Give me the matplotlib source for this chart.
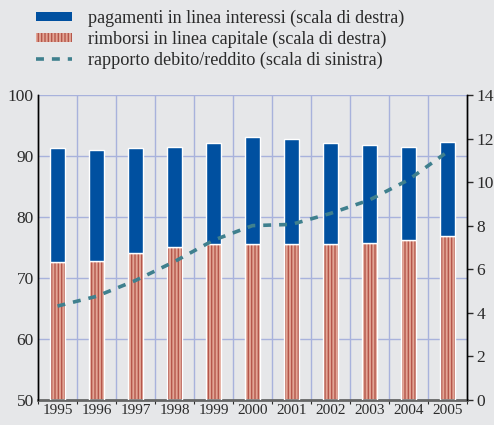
import matplotlib
matplotlib.use("Agg")
import matplotlib.pyplot as plt
import numpy as np
from matplotlib.patches import Patch
from matplotlib.lines import Line2D

years = ["1995", "1996", "1997", "1998", "1999", "2000",
         "2001", "2002", "2003", "2004", "2005"]
# right scale: capital repayments and total service (capital + interest)
rimborsi = [6.35, 6.39, 6.75, 7.02, 7.18, 7.18, 7.18, 7.16, 7.19, 7.33, 7.54]
totale = [11.58, 11.49, 11.58, 11.62, 11.80, 12.10, 12.00, 11.79, 11.69, 11.64, 11.84]
interessi = [t - r for t, r in zip(totale, rimborsi)]
# left scale: debt / income ratio
rapporto = [65.4, 67.0, 69.6, 72.7, 76.2, 78.6, 78.8, 80.6, 82.8, 86.1, 90.7]

BG = "#e6e7e9"
GRID = "#a8b2dc"
BLUE = "#0050a0"
SALMON = "#e2a595"
STRIPE = "#b5564b"
TEAL = "#3f808e"
TXT = "#2a2a2a"

plt.rcParams["font.family"] = ["Liberation Serif", "DejaVu Serif"]
plt.rcParams["hatch.linewidth"] = 1.0

fig = plt.figure(figsize=(4.94, 4.25), dpi=100, facecolor=BG)
ax_bar = fig.add_axes([0.077, 0.059, 0.868, 0.717])
ax_bar.set_facecolor(BG)
ax_line = ax_bar.twinx()
ax_line.set_zorder(ax_bar.get_zorder() + 1)
ax_line.patch.set_visible(False)

x = np.arange(len(years))
w = 0.4

# grid behind bars (horizontal at left-scale ticks, vertical at year boundaries)
ax_bar.hlines([60, 70, 80, 90, 100], -0.5, len(years) - 0.5, colors=GRID,
              lw=1.0, transform=ax_line.transData, zorder=0)
for b in np.arange(0.5, len(years) - 1, 1):
    ax_bar.axvline(b, color=GRID, lw=1.0, zorder=0)

ax_bar.bar(x, rimborsi, w, color=SALMON, edgecolor=STRIPE, hatch="|||||",
           linewidth=0, zorder=2)
ax_bar.bar(x, rimborsi, w, facecolor="none", edgecolor="white", linewidth=1.0, zorder=3)
ax_bar.bar(x, interessi, w, bottom=rimborsi, color=BLUE, edgecolor="white",
           linewidth=1.0, zorder=3)

ax_line.plot(x, rapporto, color=TEAL, lw=2.6, linestyle=(0, (2.2, 2.2)),
             solid_capstyle="butt")

ax_bar.set_xlim(-0.5, len(years) - 0.5)
ax_bar.set_ylim(0, 14)
ax_line.set_ylim(50, 100)

# right axis (bars) ticks on the right, left axis (line) ticks on the left
ax_bar.yaxis.tick_right()
ax_bar.set_yticks(np.arange(0, 15, 2))
ax_bar.tick_params(axis="y", direction="out", length=4, width=1.0, color=TXT,
                   labelsize=12.5, labelcolor=TXT, pad=3)
ax_line.yaxis.tick_left()
ax_line.set_yticks(np.arange(50, 101, 10))
ax_line.tick_params(axis="y", length=0, labelsize=12.5, labelcolor=TXT, pad=3)

ax_bar.set_xticks(np.arange(-0.5, len(years), 1))
ax_bar.set_xticklabels([])
ax_bar.set_xticks(x, minor=True)
ax_bar.set_xticklabels(years, minor=True)
ax_bar.tick_params(axis="x", which="major", direction="out", length=3, color=TXT)
ax_bar.tick_params(axis="x", which="minor", length=0, labelsize=11,
                   labelcolor=TXT, pad=3)

for a in (ax_bar, ax_line):
    a.spines["top"].set_visible(False)
    a.spines["left"].set_color("black")
    a.spines["right"].set_color("black")
    a.spines["left"].set_linewidth(1.0)
    a.spines["right"].set_linewidth(1.0)
ax_bar.spines["bottom"].set_color("#666666")
ax_bar.spines["bottom"].set_linewidth(2.0)
ax_line.spines["bottom"].set_visible(False)

handles = [
    Patch(facecolor=BLUE, edgecolor="none"),
    Patch(facecolor=SALMON, edgecolor=STRIPE, hatch="|||||", linewidth=0),
    Line2D([0], [0], color=TEAL, lw=2.6, linestyle=(0, (2.2, 2.2))),
]
labels = [
    "pagamenti in linea interessi (scala di destra)",
    "rimborsi in linea capitale (scala di destra)",
    "rapporto debito/reddito (scala di sinistra)",
]
fig.legend(handles, labels, loc="upper left", bbox_to_anchor=(0.05, 1.003),
           frameon=False, fontsize=13.1, labelcolor=TXT, handlelength=2.0,
           handleheight=0.4, handletextpad=0.9, labelspacing=0.2,
           borderaxespad=0.2)

fig.savefig("out.png", dpi=100, facecolor=BG)
